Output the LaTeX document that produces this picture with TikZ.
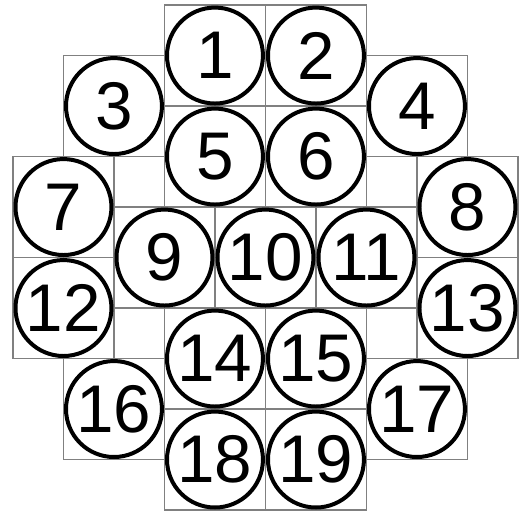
\documentclass[tikz,border=0pt]{standalone}
\usepackage{fontspec}
\setmainfont{Liberation Sans}
\begin{document}
\begin{tikzpicture}[
  grid/.style={draw=black!50, line width=0.9pt},
  disc/.style={circle, draw=black, fill=white, line width=2.25pt, minimum size=1.9cm, inner sep=0pt, font=\fontsize{38}{38}\selectfont},
]
\useasboundingbox (-0.257,-10.12) rectangle (10.08,0.1);
\foreach \n/\x/\y in {1/4/1,2/6/1,3/2/2,4/8/2,5/4/3,6/6/3,7/1/4,8/9/4,9/3/5,10/5/5,11/7/5,12/1/6,13/9/6,14/4/7,15/6/7,16/2/8,17/8/8,18/4/9,19/6/9}{
  \coordinate (p\n) at (\x,-\y);
  \draw[grid] (p\n) ++(-1,-1) rectangle ++(2,2);
}
\foreach \n in {1,...,19}{
  \node[disc] (c\n) at (p\n) {\n};
}
\end{tikzpicture}
\end{document}
